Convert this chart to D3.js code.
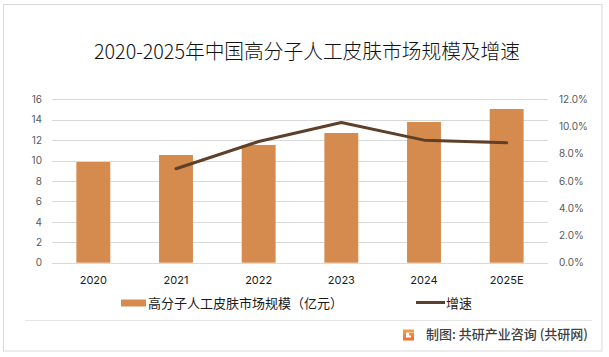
<!DOCTYPE html>
<html>
<head>
<meta charset="utf-8">
<script src="https://cdn.jsdelivr.net/npm/d3@7"></script>
<style>
  html, body { margin: 0; padding: 0; background: #fff; }
  svg { display: block; font-family: "Noto Sans CJK SC", "Noto Sans", sans-serif; }
</style>
</head>
<body>
<svg id="chart" width="609" height="357"></svg>
<script>
const categories = ["2020", "2021", "2022", "2023", "2024", "2025E"];
const marketSize = [9.86, 10.55, 11.53, 12.70, 13.78, 15.05];
const growthRate = [null, 0.069, 0.089, 0.103, 0.090, 0.088];
const leftTicks = [0, 2, 4, 6, 8, 10, 12, 14, 16];
const rightTicks = [0, 0.02, 0.04, 0.06, 0.08, 0.10, 0.12];
const titleText = "2020-2025年中国高分子人工皮肤市场规模及增速";
const barLegend = "高分子人工皮肤市场规模（亿元）";
const lineLegend = "增速";
const sourceText = "制图: 共研产业咨询 (共研网)";

const svg = d3.select("#chart");
const plot = { left: 52, right: 548, top: 99.3, bottom: 262.7 };

const barColor = "#D48B4D";
const lineColor = "#5E3F29";
const gridColor = "#D9D9D9";
const axisText = "#595959";

// outer border
svg.append("rect").attr("x", 3.5).attr("y", 4.5).attr("width", 598.5).attr("height", 346.5)
  .attr("fill", "#fff").attr("stroke", "#D9D9D9").attr("stroke-width", 1);

// title
svg.append("text").attr("x", 307).attr("y", 59).attr("text-anchor", "middle")
  .attr("font-size", 20).attr("font-weight", 300).attr("fill", "#111").attr("textLength", 426)
  .attr("lengthAdjust", "spacingAndGlyphs").text(titleText);

const x = d3.scaleBand().domain(categories).range([plot.left, plot.right])
  .paddingInner(0.59).paddingOuter(0.295);
const yL = d3.scaleLinear().domain([0, 16]).range([plot.bottom, plot.top]);
const yR = d3.scaleLinear().domain([0, 0.12]).range([plot.bottom, plot.top]);

// gridlines
svg.append("g").selectAll("line").data(leftTicks).join("line")
  .attr("x1", plot.left).attr("x2", plot.right)
  .attr("y1", d => Math.round(yL(d)) + 0.5).attr("y2", d => Math.round(yL(d)) + 0.5)
  .attr("stroke", gridColor).attr("stroke-width", 1);

// left axis
const axL = svg.append("g").attr("transform", `translate(${plot.left},0)`)
  .call(d3.axisLeft(yL).tickValues(leftTicks).tickSize(0).tickPadding(10).tickFormat(d3.format("d")));
axL.select(".domain").remove();
axL.selectAll("text").attr("font-size", 10).attr("fill", axisText)
  .attr("font-family", "Inter, 'Noto Sans', sans-serif");

// right axis
const axR = svg.append("g").attr("transform", `translate(${plot.right},0)`)
  .call(d3.axisRight(yR).tickValues(rightTicks).tickSize(0).tickPadding(11).tickFormat(d3.format(".1%")));
axR.select(".domain").remove();
axR.selectAll("text").attr("font-size", 10).attr("fill", axisText)
  .attr("font-family", "Inter, 'Noto Sans', sans-serif");

// bars
svg.append("g").selectAll("rect").data(categories).join("rect")
  .attr("x", d => x(d)).attr("width", x.bandwidth())
  .attr("y", (d, i) => yL(marketSize[i]))
  .attr("height", (d, i) => yL(0) - yL(marketSize[i]))
  .attr("fill", barColor);

// bottom axis
const axB = svg.append("g").attr("transform", `translate(0,${plot.bottom})`)
  .call(d3.axisBottom(x).tickSize(0).tickPadding(14));
axB.select(".domain").remove();
axB.selectAll("text").attr("font-size", 11).attr("fill", "#1a1a1a")
  .attr("font-family", "Inter, 'Noto Sans', sans-serif");

// line
const lineData = categories.map((c, i) => ({ c, v: growthRate[i] })).filter(d => d.v != null);
svg.append("path").datum(lineData)
  .attr("d", d3.line().x(d => x(d.c) + x.bandwidth() / 2).y(d => yR(d.v)))
  .attr("fill", "none").attr("stroke", lineColor).attr("stroke-width", 3)
  .attr("stroke-linejoin", "round").attr("stroke-linecap", "round");

// legend
const lg = svg.append("g");
lg.append("rect").attr("x", 121).attr("y", 299.5).attr("width", 25).attr("height", 7).attr("fill", barColor);
lg.append("text").attr("x", 148).attr("y", 308).attr("font-size", 13).attr("fill", "#1a1a1a").text(barLegend);
lg.append("line").attr("x1", 416).attr("x2", 445).attr("y1", 302.5).attr("y2", 302.5)
  .attr("stroke", lineColor).attr("stroke-width", 3);
lg.append("text").attr("x", 446).attr("y", 308).attr("font-size", 13).attr("fill", "#1a1a1a").text(lineLegend);

// separator
svg.append("line").attr("x1", 25).attr("x2", 592).attr("y1", 320.5).attr("y2", 320.5)
  .attr("stroke", "#E6E6E6").attr("stroke-width", 1);

// source logo
const defs = svg.append("defs");
const gr = defs.append("linearGradient").attr("id", "logoGrad").attr("x1", 0).attr("y1", 0).attr("x2", 0).attr("y2", 1);
gr.append("stop").attr("offset", "0%").attr("stop-color", "#F7A04A");
gr.append("stop").attr("offset", "100%").attr("stop-color", "#EE6B2E");
svg.append("path")
  .attr("d", "M403,329.5 h11 v3 h-8 v5 h5 v-2 h-2 v-2.5 h5 v7.5 h-11 z")
  .attr("fill", "url(#logoGrad)");
svg.append("text").attr("x", 426).attr("y", 339).attr("font-size", 13).attr("font-weight", 500)
  .attr("fill", "#404040").text(sourceText);
</script>
</body>
</html>
